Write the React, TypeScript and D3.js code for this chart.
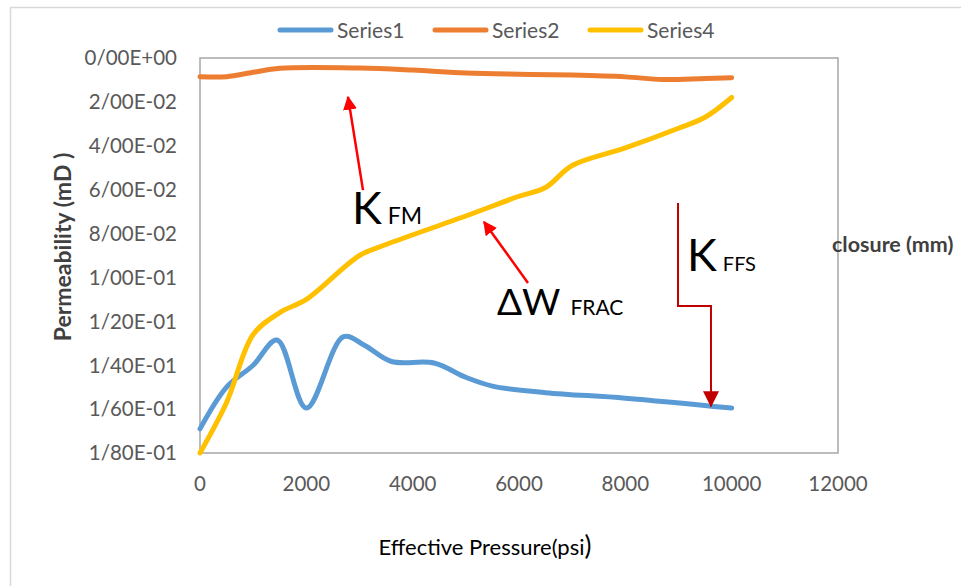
import * as d3 from "d3";

// effective pressure (psi) and permeability (mD)
const series1X = [0, 500, 1000, 1450, 2000, 2700, 3100, 3600, 4400, 5000, 5500, 6500, 8000, 10000];
const series1Y = [0.169, 0.15, 0.14, 0.1285, 0.1595, 0.127, 0.131, 0.1383, 0.139, 0.1455, 0.1495, 0.1525, 0.155, 0.1595];

const series2X = [0, 500, 1000, 1500, 3000, 4000, 5000, 6000, 7000, 8000, 8700, 9500, 10000];
const series2Y = [0.0085, 0.0085, 0.0065, 0.0047, 0.0046, 0.0055, 0.0068, 0.0074, 0.0078, 0.0086, 0.0098, 0.0093, 0.009];

const series4X = [0, 500, 1000, 1500, 2000, 3000, 3500, 5000, 6000, 6500, 7000, 8000, 9000, 9500, 10000];
const series4Y = [0.18, 0.157, 0.126, 0.116, 0.11, 0.09, 0.085, 0.072, 0.063, 0.059, 0.049, 0.041, 0.032, 0.027, 0.018];

const seriesNames = ["Series1", "Series2", "Series4"];
const seriesColors = ["#5B9BD5", "#ED7D31", "#FFC000"];

const xTicks = [0, 2000, 4000, 6000, 8000, 10000, 12000];
const yTicks = [0, 0.02, 0.04, 0.06, 0.08, 0.1, 0.12, 0.14, 0.16, 0.18];

const W = 961;
const H = 586;
const margin = { top: 58, right: 123, bottom: 133, left: 200 };
const font = "Lato, 'Open Sans', sans-serif";

const x = d3.scaleLinear().domain([0, 12000]).range([margin.left, W - margin.right]);
const y = d3.scaleLinear().domain([0, 0.18]).range([margin.top, H - margin.bottom]);

// excel style number: 2/00E-02
const fmtY = (v: number) => {
  const [m, e] = d3.format(".2e")(v).split("e");
  const ex = +e;
  return m.replace(".", "/") + "E" + (ex < 0 ? "-" : "+") + String(Math.abs(ex)).padStart(2, "0");
};

export default function App() {
  const line = d3
    .line<[number, number]>()
    .x((d) => x(d[0]))
    .y((d) => y(d[1]))
    .curve(d3.curveCatmullRom.alpha(0.5));

  const series = [
    d3.zip(series1X, series1Y) as [number, number][],
    d3.zip(series2X, series2Y) as [number, number][],
    d3.zip(series4X, series4Y) as [number, number][],
  ];

  const [x0, x1] = x.range();
  const [y0, y1] = y.range();

  return (
    <svg width={W} height={H} style={{ position: "absolute", left: 0, top: 0, background: "#fff" }} fontFamily={font}>
      <defs>
        <marker id="redHead" viewBox="0 0 10 10" refX="9" refY="5" markerUnits="userSpaceOnUse" markerWidth="14" markerHeight="14" orient="auto">
          <path d="M0,0 L10,5 L0,10 z" fill="#FF0000" />
        </marker>
        <marker id="darkHead" viewBox="0 0 10 10" refX="9.5" refY="5" markerUnits="userSpaceOnUse" markerWidth="16" markerHeight="16" orient="auto">
          <path d="M0,0 L10,5 L0,10 z" fill="#C00000" />
        </marker>
      </defs>

      <rect x={10.5} y={7.5} width={W} height={H} fill="none" stroke="#d9d9d9" strokeWidth={1.5} />

      {/* legend */}
      <g transform="translate(278,30)">
        {seriesNames.map((n, i) => (
          <g key={n} transform={`translate(${i * 155},0)`}>
            <line x1={2} x2={53} y1={0} y2={0} stroke={seriesColors[i]} strokeWidth={5} strokeLinecap="round" />
            <text x={59} y={0} dy="0.36em" fontSize={21} fill="#595959">{n}</text>
          </g>
        ))}
      </g>

      {/* plot frame */}
      <rect x={x0} y={y0} width={x1 - x0} height={y1 - y0} fill="none" stroke="#A6A6A6" strokeWidth={1.5} />

      {/* axes labels */}
      {yTicks.map((t) => (
        <text key={t} x={x0 - 23} y={y(t)} dy="0.36em" textAnchor="end" fontSize={20.5} fill="#595959">
          {fmtY(t)}
        </text>
      ))}
      {xTicks.map((t) => (
        <text key={t} x={x(t)} y={y1 + 31} dy="0.36em" textAnchor="middle" fontSize={20.5} fill="#595959">
          {t}
        </text>
      ))}

      <text x={485} y={555} textAnchor="middle" fontSize={22} fill="#000">
        Effective Pressure(psi<tspan fontSize={26}>)</tspan>
      </text>
      <text transform="translate(63,247) rotate(-90)" textAnchor="middle" dy="0.36em" fontSize={23} fontWeight="bold" fill="#404040">
        Permeability (mD )
      </text>
      <text x={x1 - 6} y={252} fontSize={21.5} fontWeight="bold" fill="#404040">
        closure (mm)
      </text>

      {/* series */}
      {series.map((s, i) => (
        <path key={i} d={line(s) ?? ""} fill="none" stroke={seriesColors[i]} strokeWidth={5} strokeLinecap="round" />
      ))}

      {/* annotations */}
      <line x1={x(3066)} y1={y(0.0602)} x2={x(2784)} y2={y(0.0178)} stroke="#FF0000" strokeWidth={2.5} markerEnd="url(#redHead)" />
      <text x={x(2859)} y={y(0.0756)} fontSize={45} fill="#000">
        K<tspan dx={6} fontSize={23}>FM</tspan>
      </text>

      <line x1={x(6169)} y1={y(0.1025)} x2={x(5342)} y2={y(0.0747)} stroke="#FF0000" strokeWidth={2.5} markerEnd="url(#redHead)" />
      <text x={x(5586)} y={y(0.1171)} fontSize={37} fill="#000">
        ΔW<tspan dx={10} fontSize={21}>FRAC</tspan>
      </text>

      <path
        d={`M${x(8991)},${y(0.0661)} V${y(0.113)} H${x(9611)} V${y(0.1588)}`}
        fill="none"
        stroke="#C00000"
        strokeWidth={2}
        markerEnd="url(#darkHead)"
      />
      <text x={x(9160)} y={y(0.0971)} fontSize={45} fill="#000">
        K<tspan dx={6} fontSize={20}>FFS</tspan>
      </text>
    </svg>
  );
}
